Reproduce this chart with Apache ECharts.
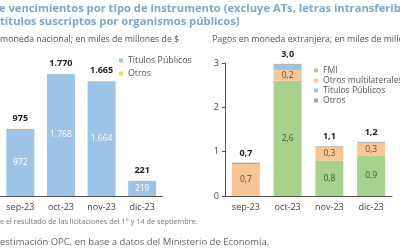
<!DOCTYPE html>
<html><head><meta charset="utf-8">
<script src="https://cdn.jsdelivr.net/npm/echarts@6/dist/echarts.min.js"></script>
<style>html,body{margin:0;padding:0;background:#fff}#c{width:400px;height:250px}</style>
</head><body><div id="c"></div>
<script>
var months = ['sep-23','oct-23','nov-23','dic-23'];
// Left: pesos, miles de millones
var arsTitulos = [972, 1768, 1664, 219];
var arsOtros = [3, 2, 1, 2];
var arsTotal = [975, 1770, 1665, 221];
// Right: USD, miles de millones
var usdFMI = [0, 2.6, 0.8, 0.9];
var usdMultilat = [0.72, 0.24, 0.3, 0.3];
var usdTitulos = [0, 0.12, 0, 0];
var usdOtros = [0.03, 0.02, 0.02, 0.02];
var usdTotal = [0.7, 3.0, 1.1, 1.2];
var usdTicks = [0, 1, 2, 3];

var F = '"Open Sans", Lato, sans-serif';
function fmtThousands(v){ return String(v).replace(/\B(?=(\d{3})+(?!\d))/g, '.'); }
function fmtDec(v){ return v.toFixed(1).replace('.', ','); }

var chart = echarts.init(document.getElementById('c'), null, {renderer:'canvas'});
chart.setOption({
  animation: false,
  textStyle: {fontFamily: F},
  graphic: [
    {type:'text', left:-1, top:3, style:{text:'e vencimientos por tipo de instrumento (excluye ATs, letras intransferibles', font:'bold 11.2px '+F, fill:'#7aa6d2'}},
    {type:'text', left:0, top:16, style:{text:'títulos suscriptos por organismos públicos)', font:'bold 11.2px '+F, fill:'#7aa6d2'}},
    {type:'text', left:0, top:35, style:{text:'moneda nacional; en miles de millones de $', font:'8.8px '+F, fill:'#555'}},
    {type:'text', left:212, top:35, style:{text:'Pagos en moneda extranjera; en miles de millones de US$', font:'8.8px '+F, fill:'#555'}},
    {type:'text', left:0, top:218, style:{text:'e el resultado de las licitaciones del 1° y 14 de septiembre.', font:'7.3px '+F, fill:'#777'}},
    {type:'text', left:0, top:237, style:{text:'estimación OPC, en base a datos del Ministerio de Economía.', font:'9.5px '+F, fill:'#666'}}
  ],
  grid: [
    {left:-9.5, width:172, top:58, height:138},
    {left:225, width:167, top:63, height:133}
  ],
  legend: [
    {orient:'vertical', left:114, top:51, itemWidth:4, itemHeight:4, itemGap:4, icon:'rect',
     textStyle:{fontSize:8.8, color:'#555', fontFamily:F}, data:['Títulos Públicos','Otros']},
    {orient:'vertical', left:309, top:61, itemWidth:4, itemHeight:4, itemGap:1, icon:'rect',
     textStyle:{fontSize:8.6, color:'#555', fontFamily:F}, data:['FMI','Otros multilaterales y bilaterales','Títulos Públicos ','Otros ']}
  ],
  xAxis: [
    {type:'category', gridIndex:0, data:months,
     axisLine:{lineStyle:{color:'#555', width:1}}, axisTick:{inside:true, length:3, lineStyle:{color:'#555'}},
     axisLabel:{fontSize:9, color:'#444', margin:7, fontFamily:F}},
    {type:'category', gridIndex:1, data:months,
     axisLine:{lineStyle:{color:'#555', width:1}}, axisTick:{inside:true, length:3, lineStyle:{color:'#555'}},
     axisLabel:{fontSize:9, color:'#444', margin:7, fontFamily:F}}
  ],
  yAxis: [
    {type:'value', gridIndex:0, min:0, max:2000, show:false},
    {type:'value', gridIndex:1, min:usdTicks[0], max:usdTicks[usdTicks.length-1], interval:1,
     axisLine:{show:true, lineStyle:{color:'#555'}}, axisTick:{show:true, length:3, lineStyle:{color:'#555'}},
     splitLine:{show:false}, axisLabel:{fontSize:9, color:'#444', margin:6, fontFamily:F}}
  ],
  series: [
    {name:'Títulos Públicos', type:'bar', xAxisIndex:0, yAxisIndex:0, stack:'a', data:arsTitulos, barWidth:28,
     itemStyle:{color:'#9dc3e6'},
     label:{show:true, position:'inside', color:'#fff', fontSize:8.5, fontFamily:F, formatter:function(p){return fmtThousands(p.value);}}},
    {name:'Otros', type:'bar', xAxisIndex:0, yAxisIndex:0, stack:'a', data:arsOtros, barWidth:28,
     itemStyle:{color:'#f5d76e'},
     label:{show:true, position:'top', distance:6, color:'#222', fontSize:9, fontWeight:'bold', fontFamily:F, formatter:function(p){return fmtThousands(arsTotal[p.dataIndex]);}}},
    {name:'FMI', type:'bar', xAxisIndex:1, yAxisIndex:1, stack:'b', data:usdFMI, barWidth:28,
     itemStyle:{color:'#a9d18e'},
     label:{show:true, position:'inside', color:'#3b5a2c', fontSize:8.5, fontFamily:F, formatter:function(p){return p.value>0.1?fmtDec(p.value):'';}}},
    {name:'Otros multilaterales y bilaterales', type:'bar', xAxisIndex:1, yAxisIndex:1, stack:'b', data:usdMultilat, barWidth:28,
     itemStyle:{color:'#f8c594'},
     label:{show:true, position:'inside', color:'#6b5030', fontSize:8.5, fontFamily:F, formatter:function(p){return p.value>0.1?fmtDec(p.value):'';}}},
    {name:'Títulos Públicos ', type:'bar', xAxisIndex:1, yAxisIndex:1, stack:'b', data:usdTitulos, barWidth:28,
     itemStyle:{color:'#9dc3e6'}},
    {name:'Otros ', type:'bar', xAxisIndex:1, yAxisIndex:1, stack:'b', data:usdOtros, barWidth:28,
     itemStyle:{color:'#a6a6a6'},
     label:{show:true, position:'top', distance:5, color:'#222', fontSize:9, fontWeight:'bold', fontFamily:F, formatter:function(p){return fmtDec(usdTotal[p.dataIndex]);}}}
  ]
});
</script></body></html>
